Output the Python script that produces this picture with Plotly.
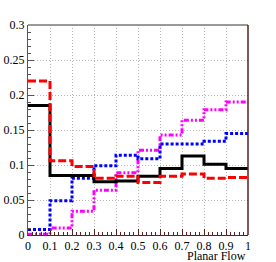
import plotly.graph_objects as go

bin_edges = [0.0, 0.1, 0.2, 0.3, 0.4, 0.5, 0.6, 0.7, 0.8, 0.9, 1.0]
black_vals = [0.185, 0.085, 0.085, 0.076, 0.077, 0.084, 0.095, 0.113, 0.101, 0.095]
red_vals = [0.220, 0.106, 0.098, 0.081, 0.084, 0.075, 0.084, 0.087, 0.081, 0.082]
blue_vals = [0.008, 0.049, 0.081, 0.099, 0.114, 0.109, 0.130, 0.130, 0.134, 0.145]
magenta_vals = [0.001, 0.010, 0.034, 0.064, 0.089, 0.121, 0.143, 0.164, 0.179, 0.190]
x_ticks = [0, 0.1, 0.2, 0.3, 0.4, 0.5, 0.6, 0.7, 0.8, 0.9, 1]
x_tick_text = ["0", "0.1", "0.2", "0.3", "0.4", "0.5", "0.6", "0.7", "0.8", "0.9", "1"]
y_ticks = [0, 0.05, 0.1, 0.15, 0.2, 0.25, 0.3]
y_tick_text = ["0", "0.05", "0.1", "0.15", "0.2", "0.25", "0.3"]
x_title = "Planar Flow"

FONT = "Times New Roman, Liberation Serif, serif"
BROWN = "#5c1e1e"
GRID = "#b4b4b4"

fig = go.Figure()

def step(vals, color, dash, width=3):
    fig.add_trace(go.Scatter(
        x=bin_edges, y=list(vals) + [vals[-1]],
        mode="lines", line=dict(color=color, width=width, dash=dash, shape="hv"),
        showlegend=False, hoverinfo="skip"))

step(magenta_vals, "#ff00ff", "5px,2px,2px,2px,2px,2px")
step(blue_vals, "#0000ff", "3px,2px")
step(black_vals, "#000000", "solid")
step(red_vals, "#ff0000", "8px,3px")

fig.update_layout(
    template="none",
    width=276, height=262,
    margin=dict(l=28, r=28, t=25, b=27, autoexpand=False),
    paper_bgcolor="white", plot_bgcolor="white",
    font=dict(family=FONT, size=12, color="black"),
    hovermode=False,
    xaxis=dict(
        range=[0, 1], tickvals=x_ticks, ticktext=x_tick_text, automargin=False,
        showgrid=True, gridcolor=GRID, griddash="1px,2px", gridwidth=1,
        zeroline=False, showline=True, linecolor=BROWN, linewidth=1,
        ticks="inside", ticklen=6, tickcolor=BROWN,
        minor=dict(dtick=0.02, ticks="inside", ticklen=3, tickcolor=BROWN, showgrid=False),
        tickfont=dict(family=FONT, size=12),
    ),
    yaxis=dict(
        range=[0, 0.3], tickvals=y_ticks, ticktext=y_tick_text, automargin=False,
        showgrid=True, gridcolor=GRID, griddash="1px,2px", gridwidth=1,
        zeroline=False, showline=True, linecolor="#555555", linewidth=1,
        ticks="inside", ticklen=6, tickcolor="#555555",
        minor=dict(dtick=0.01, ticks="inside", ticklen=3, tickcolor="#555555", showgrid=False),
        tickfont=dict(family=FONT, size=12),
    ),
    shapes=[
        dict(type="line", xref="paper", yref="paper", x0=0, x1=1, y0=1, y1=1,
             line=dict(color="#999999", width=2)),
        dict(type="line", xref="paper", yref="paper", x0=1, x1=1, y0=0, y1=1,
             line=dict(color=BROWN, width=1.5)),
    ],
    annotations=[
        dict(text=x_title, xref="paper", yref="paper", x=1, y=0,
             xanchor="right", yanchor="top", yshift=-12, showarrow=False,
             font=dict(family=FONT, size=12)),
    ],
)

fig.write_html("out.html", config={"displayModeBar": False, "staticPlot": True},
               post_script="document.body.style.margin='0';")
